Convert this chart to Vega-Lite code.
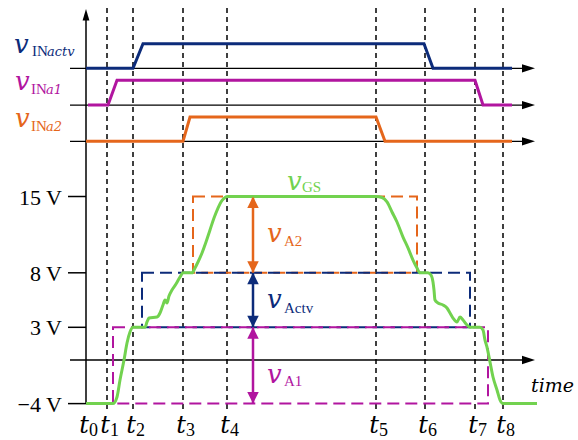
{
"$schema":"https://vega.github.io/schema/vega-lite/v6.json",
"width":578,"height":440,"autosize":"none","padding":0,
"background":"white",
"config":{"view":{"stroke":null},"text":{"font":"Liberation Serif"}},
"encoding":{
 "x":{"field":"x","type":"quantitative","scale":{"domain":[0,578],"nice":false,"zero":false},"axis":null},
 "y":{"field":"v","type":"quantitative","scale":{"domain":[-7.339,33.028],"nice":false,"zero":false},"axis":null}
},
"layer":[
 {"data":{"values":[{"x":107,"v":32.3,"v2":-4.68},{"x":133,"v":32.3,"v2":-4.68},{"x":183,"v":32.3,"v2":-4.68},{"x":227,"v":32.3,"v2":-4.68},{"x":376,"v":32.3,"v2":-4.68},{"x":425,"v":32.3,"v2":-4.68},{"x":475,"v":32.3,"v2":-4.68},{"x":503,"v":32.3,"v2":-4.68}]},
  "mark":{"type":"rule","color":"black","strokeWidth":1.5,"strokeDash":[5,4]},
  "encoding":{"y2":{"field":"v2"}}},
 {"data":{"values":[{"x":70,"x2":524,"v":26.76},{"x":70,"x2":524,"v":23.39},{"x":70,"x2":524,"v":20.06},{"x":70,"x2":524,"v":0}]},
  "mark":{"type":"rule","color":"black","strokeWidth":1.3},
  "encoding":{"x2":{"field":"x2"}}},
 {"data":{"values":[{"x":86,"v":-4,"v2":31.5}]},
  "mark":{"type":"rule","color":"black","strokeWidth":1.5},
  "encoding":{"y2":{"field":"v2"}}},
 {"data":{"values":[{"x":68,"x2":86,"v":15},{"x":68,"x2":86,"v":8},{"x":68,"x2":86,"v":3},{"x":68,"x2":86,"v":-4}]},
  "mark":{"type":"rule","color":"black","strokeWidth":1.5},
  "encoding":{"x2":{"field":"x2"}}},
 {"data":{"values":[{"c":"a2","x":193,"x2":417,"v":15,"v2":8},{"c":"actv","x":142,"x2":470,"v":8,"v2":3},{"c":"a1","x":113,"x2":488,"v":3,"v2":-4}]},
  "mark":{"type":"rect","filled":false,"strokeWidth":2,"strokeDash":[12,6]},
  "encoding":{"x2":{"field":"x2"},"y2":{"field":"v2"},
   "color":{"field":"c","type":"nominal","scale":{"domain":["actv","a1","a2","gs","axis"],"range":["#0c2b7a","#b1159f","#e5661b","#72d24f","#000000"]},"legend":null}}},
 {"data":{"values":[{"c":"a2","x":253,"v":15,"v2":8},{"c":"actv","x":253,"v":8,"v2":3},{"c":"a1","x":253,"v":3,"v2":-4}]},
  "mark":{"type":"rule","strokeWidth":2.5},
  "encoding":{"y2":{"field":"v2"},
   "color":{"field":"c","type":"nominal","scale":{"domain":["actv","a1","a2","gs","axis"],"range":["#0c2b7a","#b1159f","#e5661b","#72d24f","#000000"]},"legend":null}}},
 {"data":{"values":[
   {"c":"actv","x":86,"v":26.76},{"c":"actv","x":133,"v":26.76},{"c":"actv","x":143,"v":29.02},{"c":"actv","x":424,"v":29.02},{"c":"actv","x":433,"v":26.76},{"c":"actv","x":512,"v":26.76},
   {"c":"a1","x":88,"v":23.39},{"c":"a1","x":108,"v":23.39},{"c":"a1","x":117,"v":25.66},{"c":"a1","x":475,"v":25.66},{"c":"a1","x":483,"v":23.39},{"c":"a1","x":512,"v":23.39},
   {"c":"a2","x":86,"v":20.06},{"c":"a2","x":183,"v":20.06},{"c":"a2","x":190,"v":22.29},{"c":"a2","x":376,"v":22.29},{"c":"a2","x":385,"v":20.06},{"c":"a2","x":512,"v":20.06}]},
  "mark":{"type":"line","strokeWidth":3},
  "encoding":{"color":{"field":"c","type":"nominal","scale":{"domain":["actv","a1","a2","gs","axis"],"range":["#0c2b7a","#b1159f","#e5661b","#72d24f","#000000"]},"legend":null}}},
 {"data":{"values":[
   {"x":86,"v":-4},{"x":113,"v":-4},{"x":117,"v":-3.39},{"x":120,"v":-1.83},{"x":124,"v":0},{"x":127,"v":1.56},{"x":130,"v":2.57},{"x":133,"v":3},{"x":145,"v":3},{"x":147,"v":3.49},{"x":149,"v":3.85},{"x":157,"v":3.94},{"x":160,"v":4.31},{"x":163,"v":5.05},{"x":165,"v":5.5},{"x":167,"v":5.23},{"x":169,"v":5.87},{"x":172,"v":6.42},{"x":176,"v":6.97},{"x":180,"v":7.61},{"x":183,"v":8},{"x":192,"v":8},{"x":195,"v":8.44},{"x":198,"v":8.99},{"x":202,"v":9.82},{"x":206,"v":10.83},{"x":210,"v":11.93},{"x":214,"v":13.03},{"x":218,"v":13.94},{"x":221,"v":14.5},{"x":224,"v":14.82},{"x":227,"v":15},
   {"x":376,"v":15},{"x":382,"v":14.91},{"x":387,"v":14.5},{"x":392,"v":13.58},{"x":397,"v":12.66},{"x":403,"v":11.28},{"x":408,"v":10.28},{"x":413,"v":9.17},{"x":417,"v":8.44},{"x":420,"v":8},{"x":428,"v":8},{"x":431,"v":7.8},{"x":433,"v":7.16},{"x":434,"v":6.42},{"x":435,"v":5.5},{"x":438,"v":5.23},{"x":443,"v":5.05},{"x":447,"v":4.77},{"x":450,"v":4.31},{"x":453,"v":3.85},{"x":457,"v":3.49},{"x":460,"v":3.94},{"x":463,"v":3.67},{"x":467,"v":3.21},{"x":470,"v":3},{"x":480,"v":3},{"x":483,"v":2.75},{"x":485,"v":1.83},{"x":487,"v":1.19},{"x":490,"v":-0.18},{"x":493,"v":-1.56},{"x":497,"v":-2.75},{"x":500,"v":-3.67},{"x":503,"v":-4},{"x":537,"v":-4}]},
  "mark":{"type":"line","strokeWidth":3,"color":"#72d24f","interpolate":"monotone"}},
 {"data":{"values":[{"x":535,"v":26.76},{"x":535,"v":23.39},{"x":535,"v":20.06},{"x":535,"v":0}]},
  "mark":{"type":"point","filled":true,"opacity":1,"color":"black","strokeWidth":0,"shape":"M0,0L-1,-0.32L-1,0.32Z","size":676}},
 {"data":{"values":[{"x":86,"v":32.2}]},
  "mark":{"type":"point","filled":true,"opacity":1,"color":"black","strokeWidth":0,"shape":"M0,0L0.3,1L-0.3,1Z","size":520}},
 {"data":{"values":[{"c":"a2","x":253,"v":15},{"c":"actv","x":253,"v":8},{"c":"a1","x":253,"v":3}]},
  "mark":{"type":"point","filled":true,"opacity":1,"strokeWidth":0,"shape":"M0,0L0.5,1L-0.5,1Z","size":529},
  "encoding":{"color":{"field":"c","type":"nominal","scale":{"domain":["actv","a1","a2","gs","axis"],"range":["#0c2b7a","#b1159f","#e5661b","#72d24f","#000000"]},"legend":null}}},
 {"data":{"values":[{"c":"a2","x":253,"v":8},{"c":"actv","x":253,"v":3},{"c":"a1","x":253,"v":-4}]},
  "mark":{"type":"point","filled":true,"opacity":1,"strokeWidth":0,"shape":"M0,0L0.5,-1L-0.5,-1Z","size":529},
  "encoding":{"color":{"field":"c","type":"nominal","scale":{"domain":["actv","a1","a2","gs","axis"],"range":["#0c2b7a","#b1159f","#e5661b","#72d24f","#000000"]},"legend":null}}},
 {"data":{"values":[{"x":62,"v":15,"t":"15 V"},{"x":62,"v":8,"t":"8 V"},{"x":62,"v":3,"t":"3 V"},{"x":62,"v":-4,"t":"−4 V"}]},
  "mark":{"type":"text","align":"right","baseline":"middle","fontSize":22,"color":"black","dy":1},
  "encoding":{"text":{"field":"t"}}},
 {"data":{"values":[{"x":86,"v":-6.7,"n":"0"},{"x":107,"v":-6.7,"n":"1"},{"x":133,"v":-6.7,"n":"2"},{"x":183,"v":-6.7,"n":"3"},{"x":227,"v":-6.7,"n":"4"},{"x":376,"v":-6.7,"n":"5"},{"x":425,"v":-6.7,"n":"6"},{"x":475,"v":-6.7,"n":"7"},{"x":503,"v":-6.7,"n":"8"}]},
  "layer":[
   {"mark":{"type":"text","text":"t","align":"center","baseline":"alphabetic","dx":-2,"font":"DejaVu Serif","fontStyle":"italic","fontSize":24,"color":"black"}},
   {"mark":{"type":"text","align":"left","baseline":"alphabetic","dx":3,"dy":3,"fontSize":18,"color":"black"},"encoding":{"text":{"field":"n"}}}
  ]},
 {"data":{"values":[{"x":531,"v":-2.94,"t":"time"}]},
  "mark":{"type":"text","align":"left","baseline":"alphabetic","font":"DejaVu Serif","fontStyle":"italic","fontSize":19,"color":"black"},
  "encoding":{"text":{"field":"t"}}},
 {"data":{"values":[{"x":14,"v":28.17,"t":"v","c":"actv"},{"x":15,"v":24.77,"t":"v","c":"a1"},{"x":15,"v":21.38,"t":"v","c":"a2"},{"x":287,"v":15.6,"t":"v","c":"gs"},{"x":267,"v":10.83,"t":"v","c":"a2"},{"x":267,"v":4.77,"t":"v","c":"actv"},{"x":267,"v":-2.11,"t":"v","c":"a1"}]},
  "mark":{"type":"text","align":"left","baseline":"alphabetic","font":"DejaVu Serif","fontStyle":"italic","fontSize":26},
  "encoding":{"text":{"field":"t"},"color":{"field":"c","type":"nominal","scale":{"domain":["actv","a1","a2","gs","axis"],"range":["#0c2b7a","#b1159f","#e5661b","#72d24f","#000000"]},"legend":null}}},
 {"data":{"values":[{"x":32,"v":27.89,"t":"IN","c":"actv"},{"x":31,"v":24.4,"t":"IN","c":"a1"},{"x":31,"v":21.01,"t":"IN","c":"a2"},{"x":302,"v":15.41,"t":"GS","c":"gs"},{"x":284,"v":10.46,"t":"A2","c":"a2"},{"x":284,"v":4.31,"t":"Actv","c":"actv"},{"x":284,"v":-2.39,"t":"A1","c":"a1"}]},
  "mark":{"type":"text","align":"left","baseline":"alphabetic","fontSize":15},
  "encoding":{"text":{"field":"t"},"color":{"field":"c","type":"nominal","scale":{"domain":["actv","a1","a2","gs","axis"],"range":["#0c2b7a","#b1159f","#e5661b","#72d24f","#000000"]},"legend":null}}},
 {"data":{"values":[{"x":47,"v":27.89,"t":"actv","c":"actv"},{"x":46,"v":24.4,"t":"a1","c":"a1"},{"x":46,"v":21.01,"t":"a2","c":"a2"}]},
  "mark":{"type":"text","align":"left","baseline":"alphabetic","font":"DejaVu Serif","fontStyle":"italic","fontSize":13},
  "encoding":{"text":{"field":"t"},"color":{"field":"c","type":"nominal","scale":{"domain":["actv","a1","a2","gs","axis"],"range":["#0c2b7a","#b1159f","#e5661b","#72d24f","#000000"]},"legend":null}}}
]
}
